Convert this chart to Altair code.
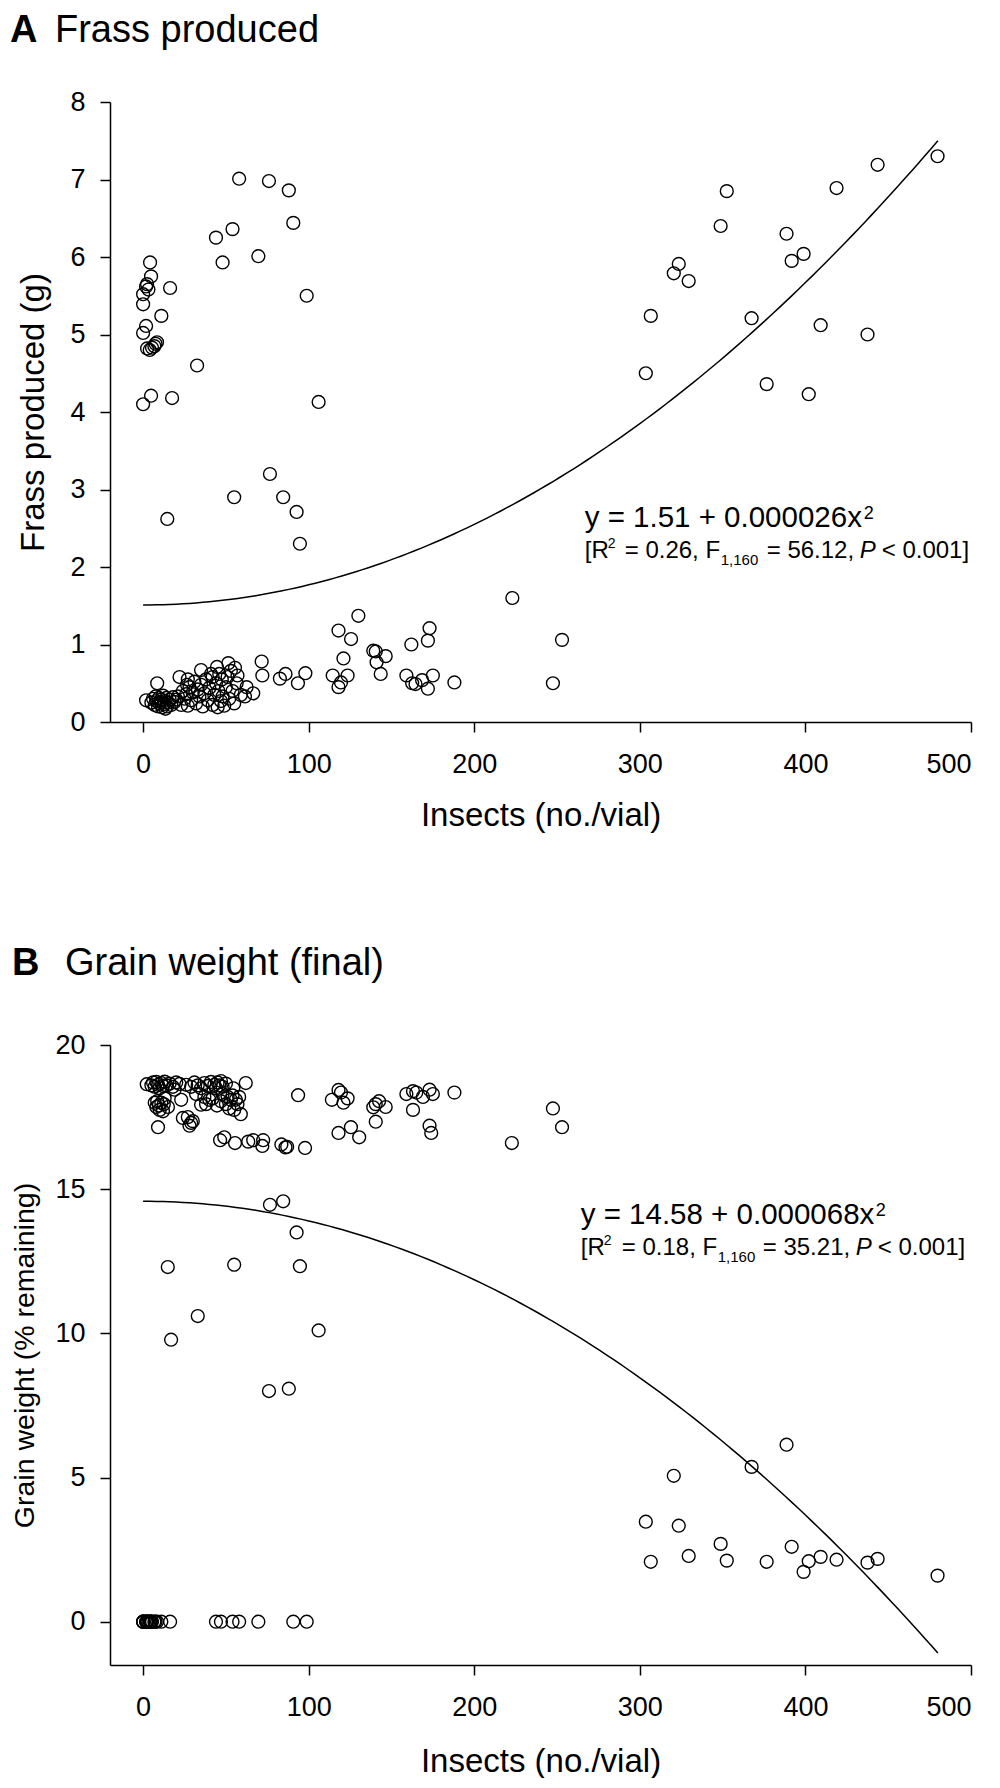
import altair as alt
import pandas as pd

FONT = "Liberation Sans"

# ---------------- Panel A: frass produced ----------------
a_hi_x = [0, 4.8, 17.5, 0, 1.8, 0, 0, 1.8, 2.4, 4.8, 4.2, 11, 16.3, 2.4, 5.4, 8.4, 6.8, 4, 32.6,
          44, 48, 54, 58, 76, 88, 90.7, 69.6, 98.8, 106, 7.5, 3.2]
a_hi_y = [4.10, 4.21, 4.18, 5.02, 5.11, 5.39, 5.52, 5.62, 5.65, 5.75, 5.93, 5.24, 5.60, 4.82, 4.83,
          4.90, 4.85, 4.80, 4.60, 6.25, 5.93, 6.36, 7.01, 6.98, 6.86, 6.44, 6.01, 5.50, 4.13, 4.88, 5.58]
a_mid_x = [14.6, 55, 76.6, 84.6, 92.7, 94.7]
a_mid_y = [2.62, 2.90, 3.20, 2.90, 2.71, 2.30]
right_x = [303.6, 306.6, 320.5, 323.5, 329.5, 348.8, 352.5, 367.5, 376.6, 388.6, 391.7, 398.9,
           402, 409.2, 418.8, 437.5, 443.6, 479.8]
a_right_y = [4.50, 5.24, 5.79, 5.91, 5.69, 6.40, 6.85, 5.21, 4.36, 6.30, 5.95, 6.04, 4.23, 5.12,
             6.89, 5.00, 7.19, 7.30]
a_low_x = [1.8, 8.5, 22, 27, 35, 42, 44.6, 51.5, 55.5, 56.5, 62.5, 66.5, 61.5, 71.6, 72, 82.6, 86,
           93.5, 98, 114.5, 118, 118, 119.5, 121, 123.5, 125.6, 130, 139, 140.5, 141, 143.5, 146.5,
           159, 162, 162.5, 164.5, 168.5, 172, 173, 172, 175, 188, 223, 253, 247.5]
a_low_y = [0.28, 0.50, 0.58, 0.55, 0.67, 0.58, 0.71, 0.76, 0.70, 0.50, 0.45, 0.37, 0.33, 0.78, 0.60,
           0.56, 0.62, 0.50, 0.63, 0.60, 1.18, 0.45, 0.51, 0.82, 0.60, 1.07, 1.37, 0.92, 0.91, 0.77,
           0.62, 0.85, 0.60, 1.00, 0.50, 0.49, 0.54, 1.05, 1.21, 0.43, 0.60, 0.51, 1.60, 1.06, 0.50]
a_dense_x = [5, 6, 7, 7.5, 8, 9, 9.5, 10, 11, 11.5, 12, 12.5, 13, 14, 14.5, 15, 16, 17, 18, 13.5,
             10.5, 20, 26.5]
a_dense_y = [0.25, 0.30, 0.22, 0.33, 0.27, 0.20, 0.31, 0.24, 0.29, 0.19, 0.34, 0.23, 0.27, 0.31,
             0.20, 0.25, 0.29, 0.22, 0.32, 0.17, 0.26, 0.29, 0.48]
a_spread_x = [19, 21, 23, 24, 25, 26, 27, 28, 29, 30, 31, 32, 33, 34, 35, 36, 37, 38, 39, 40, 41,
              42, 43, 44, 45, 45.5, 46, 47, 47.5, 48, 49, 50, 51, 52, 53, 54, 55, 57, 59]
a_spread_y = [0.26, 0.33, 0.22, 0.40, 0.30, 0.36, 0.21, 0.45, 0.28, 0.38, 0.52, 0.24, 0.42, 0.33,
              0.48, 0.20, 0.37, 0.55, 0.28, 0.44, 0.62, 0.22, 0.35, 0.50, 0.19, 0.40, 0.62, 0.27,
              0.55, 0.33, 0.21, 0.45, 0.58, 0.30, 0.66, 0.40, 0.24, 0.60, 0.35]

# ---------------- Panel B: grain weight ----------------
b_zero_x = [0, 4.8, 0, 1.8, 0, 0, 1.8, 2.4, 4.8, 4.2, 11, 16.3, 2.4, 5.4, 8.4, 6.8, 4, 44, 47, 54,
            58, 90.7, 69.6, 98.8, 7.5, 3.2]
b_zero_y = [0] * 26
b_mid_x = [76, 88, 76.6, 84.6, 92.7, 14.9, 55, 94.7, 33, 16.9, 106]
b_mid_y = [8.0, 8.08, 14.46, 14.58, 13.5, 12.3, 12.38, 12.33, 10.6, 9.78, 10.1]
b_right_y = [3.47, 2.08, 5.06, 3.33, 2.28, 2.70, 2.12, 5.37, 2.08, 6.14, 2.60, 1.73, 2.10, 2.25,
             2.15, 2.05, 2.18, 1.60]
b_up_x = [2.2, 62, 93.6, 23, 24, 28, 30, 35, 40, 44.6, 53, 55, 56, 46.5, 49, 55.5, 63.5, 66.5,
          72.5, 72, 83.5, 86, 87, 97.8, 118, 114, 119.5, 121, 123.5, 118, 125.5, 130.5, 139, 140.5,
          142.5, 146.5, 140.5, 159, 163, 165, 169, 163, 173, 175, 173, 174, 188, 247.5, 253, 222.7,
          9, 12]
b_up_y = [18.64, 18.68, 18.26, 18.1, 17.47, 17.2, 17.36, 17.93, 18.1, 17.9, 18.1, 17.75, 18.1,
          16.7, 16.8, 16.6, 16.65, 16.7, 16.7, 16.5, 16.55, 16.45, 16.47, 16.43, 18.44, 18.1, 18.35,
          18.0, 18.15, 16.95, 17.15, 16.8, 17.84, 17.95, 18.05, 17.85, 17.34, 18.3, 18.4, 18.35,
          18.2, 17.75, 18.45, 18.3, 17.2, 16.95, 18.35, 17.8, 17.15, 16.6, 17.15, 17.7]
b_top_x = [5, 6, 7, 8, 9, 10, 11, 12, 13, 14, 16, 18, 20, 26, 29, 31, 33, 35, 37, 39, 41, 43, 44,
           45, 46, 47, 48, 50, 19, 22, 54.5]
b_top_y = [18.6, 18.7, 18.55, 18.72, 18.62, 18.5, 18.68, 18.58, 18.73, 18.6, 18.66, 18.55, 18.7,
           18.62, 18.55, 18.7, 18.6, 18.5, 18.68, 18.58, 18.72, 18.62, 18.5, 18.7, 18.6, 18.75,
           18.55, 18.66, 18.45, 18.65, 18.5]
b_row2_x = [7, 8, 8.5, 9.5, 10, 11, 12.5, 13, 15, 32, 37, 38, 42, 47, 48, 50, 51, 52, 54, 57, 58,
            59, 27, 29]
b_row2_y = [18.0, 17.85, 18.05, 17.9, 17.75, 18.0, 17.95, 18.15, 17.85, 18.3, 18.2, 17.95, 18.15,
            18.05, 18.3, 17.95, 18.2, 17.8, 18.25, 17.95, 18.2, 17.6, 17.5, 17.3]

frass_x = a_hi_x + a_mid_x + right_x + a_low_x + a_dense_x + a_spread_x
frass_y = a_hi_y + a_mid_y + a_right_y + a_low_y + a_dense_y + a_spread_y
grain_x = b_zero_x + b_mid_x + right_x + b_up_x + b_top_x + b_row2_x
grain_y = b_zero_y + b_mid_y + b_right_y + b_up_y + b_top_y + b_row2_y

x_ticks = [0, 100, 200, 300, 400, 500]
frass_ticks = [0, 1, 2, 3, 4, 5, 6, 7, 8]
grain_ticks = [0, 5, 10, 15, 20]

# fitted models (coefficients printed on the chart)
frass_fit = "1.51 + 0.000026 * datum.x * datum.x"
grain_fit = "14.58 - 0.000068 * datum.x * datum.x"

W, H = 861, 620


def panel(xs, ys, ydom, yticks, ytitle, ytitle_size, ytitle_x, xtitle_y, fit,
          letter, title, letter_x, title_x, title_y, ann_x, eq1, eq1_y, sup1_dx, line2, line2_y):
    xenc = alt.X("x:Q", scale=alt.Scale(domain=[-20, 500], nice=False, zero=False),
                 axis=alt.Axis(values=x_ticks, format="d", title="Insects (no./vial)",
                               titleY=xtitle_y, titleBaseline="alphabetic",
                               labelBaseline="alphabetic", labelPadding=40,
                               titleFontSize=33))
    yenc = alt.Y("y:Q", scale=alt.Scale(domain=ydom, nice=False, zero=False),
                 axis=alt.Axis(values=yticks, format="d", title=ytitle,
                               titleX=ytitle_x, titleBaseline="middle",
                               labelPadding=15, titleFontSize=ytitle_size))
    df = pd.DataFrame({"x": xs, "y": ys})
    pts = alt.Chart(df).mark_point(shape="circle", filled=False, color="black",
                                   size=165, strokeWidth=1.4, opacity=1).encode(x=xenc, y=yenc)
    line = (alt.Chart(alt.sequence(0, 482, 4, as_="x"))
            .transform_calculate(y=fit)
            .mark_line(color="black", strokeWidth=1.5)
            .encode(x=xenc, y=yenc))
    layers = [pts, line]

    def txt(text, xv, yv, dx=0, dy=0, size=24, style="normal"):
        d = pd.DataFrame({"x": [xv], "y": [yv], "t": [text]})
        return alt.Chart(d).mark_text(align="left", baseline="alphabetic", dx=dx, dy=dy,
                                      fontSize=size, font=FONT, fontStyle=style,
                                      color="black").encode(x=xenc, y=yenc, text="t:N")

    layers.append(txt(eq1, ann_x, eq1_y, size=29.5))
    layers.append(txt("2", ann_x, eq1_y, dx=sup1_dx, dy=-8, size=18))
    for (t, dx, dy, size, style) in line2:
        layers.append(txt(t, ann_x, line2_y, dx=dx, dy=dy, size=size, style=style))

    hd = pd.DataFrame({"t": [letter]})
    layers.append(alt.Chart(hd).mark_text(align="left", baseline="alphabetic", fontSize=38,
                                          font=FONT, fontWeight="bold", color="black").encode(
        x=alt.value(letter_x), y=alt.value(title_y), text="t:N"))
    hd2 = pd.DataFrame({"t": [title]})
    layers.append(alt.Chart(hd2).mark_text(align="left", baseline="alphabetic", fontSize=38,
                                           font=FONT, color="black").encode(
        x=alt.value(title_x), y=alt.value(title_y), text="t:N"))
    return alt.layer(*layers).properties(width=W, height=H)


lineA = [("[R", 0, 0, 24, "normal"), ("2", 23, -10, 14, "normal"),
         ("= 0.26, F", 40, 0, 24, "normal"), ("1,160", 136, 7, 15, "normal"),
         ("= 56.12,", 182, 0, 24, "normal"), ("P", 275, 0, 24, "italic"),
         ("< 0.001]", 297, 0, 24, "normal")]
lineB = [("[R", 0, 0, 24, "normal"), ("2", 23, -10, 14, "normal"),
         ("= 0.18, F", 41, 0, 24, "normal"), ("1,160", 137, 7, 15, "normal"),
         ("= 35.21,", 182, 0, 24, "normal"), ("P", 275, 0, 24, "italic"),
         ("< 0.001]", 297, 0, 24, "normal")]

chartA = panel(frass_x, frass_y, [0, 8], frass_ticks, "Frass produced (g)", 33, -77, 103,
               frass_fit, "A", "Frass produced", -100, -55, -60,
               266.7, "y = 1.51 + 0.000026x", 2.52, 279, lineA, 2.116)
chartB = panel(grain_x, grain_y, [-1.5, 20], grain_ticks, "Grain weight (% remaining)", 28.5,
               -86, 106, grain_fit, "B", "Grain weight (final)", -98, -45, -70,
               264.3, "y = 14.58 + 0.000068x", 13.8, 295, lineB, 12.72)

chart = (alt.vconcat(chartA, chartB, spacing=113)
         .properties(padding={"top": 4, "left": 2, "right": 5, "bottom": 0})
         .configure_view(stroke=None)
         .configure_axis(grid=False, domainColor="black", domainWidth=1.5, tickColor="black",
                         tickWidth=1.5, tickSize=10, labelFontSize=27, labelColor="black",
                         labelFont=FONT, titleFont=FONT, titleColor="black",
                         titleFontWeight="normal"))

chart.save("out.html", embed_options={"renderer": "svg", "actions": False})
